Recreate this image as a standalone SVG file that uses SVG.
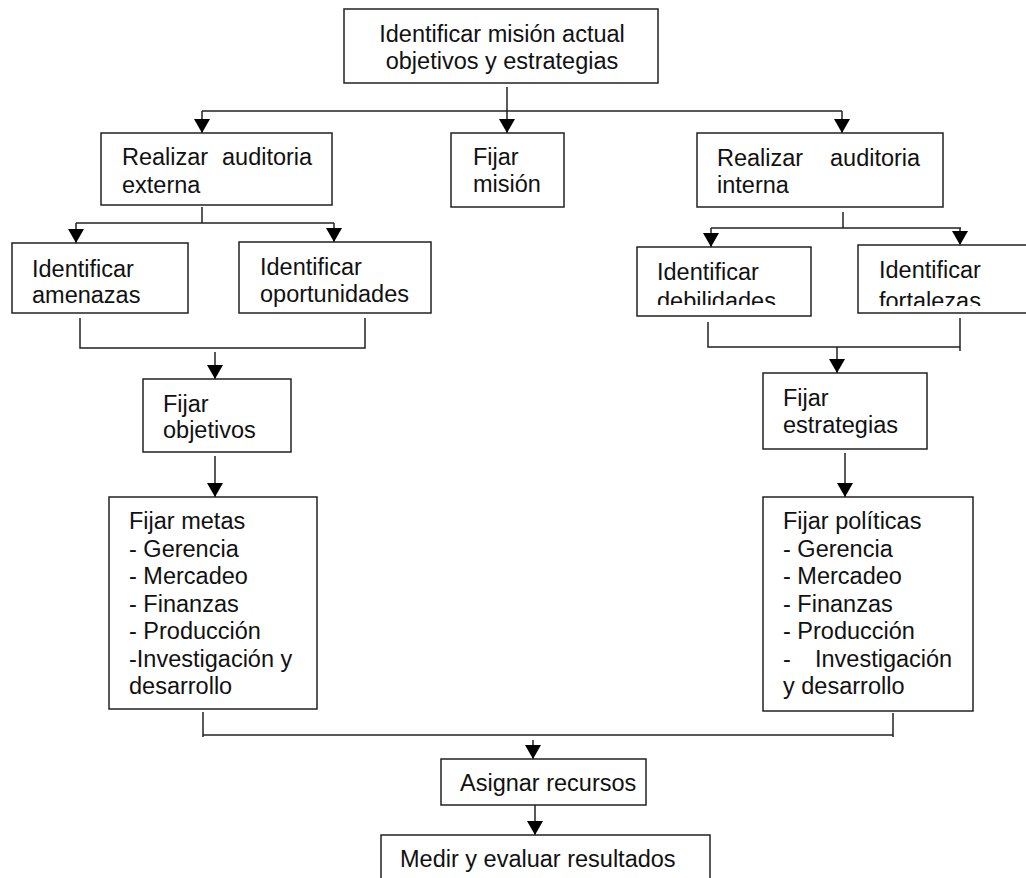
<svg xmlns="http://www.w3.org/2000/svg" width="1026" height="878" viewBox="0 0 1026 878">
<style>
.box{fill:#fff;stroke:#222;stroke-width:1.5}
.t{font-family:"Liberation Sans",Arial,sans-serif;font-size:23.5px;fill:#111}
.c{fill:none;stroke:#222;stroke-width:1.5}
</style>
<defs>
<marker id="ah" viewBox="0 0 14 16" refX="14" refY="8" markerWidth="14" markerHeight="16" markerUnits="userSpaceOnUse" orient="auto">
<path d="M0,0 L14,8 L0,16 z" fill="#000"/>
</marker>
<clipPath id="clipDeb"><rect x="637" y="247" width="174" height="58"/></clipPath>
<clipPath id="clipFor"><rect x="858" y="245" width="168" height="61"/></clipPath>
</defs>
<rect width="1026" height="878" fill="#fff"/>
<g id="connectors">
<path class="c" d="M507,87 V111"/>
<path class="c" d="M202,111 H842"/>
<path class="c" d="M202,111 V133" marker-end="url(#ah)"/>
<path class="c" d="M507,111 V133" marker-end="url(#ah)"/>
<path class="c" d="M842,111 V133" marker-end="url(#ah)"/>
<path class="c" d="M202,207 V223"/>
<path class="c" d="M76,223 H334"/>
<path class="c" d="M76,223 V243" marker-end="url(#ah)"/>
<path class="c" d="M334,223 V242" marker-end="url(#ah)"/>
<path class="c" d="M80,318 V348 H365 V318"/>
<path class="c" d="M215,352 V379" marker-end="url(#ah)"/>
<path class="c" d="M215,456 V497" marker-end="url(#ah)"/>
<path class="c" d="M843,212 V228"/>
<path class="c" d="M711,228 H961"/>
<path class="c" d="M711,228 V247" marker-end="url(#ah)"/>
<path class="c" d="M960,228 V245" marker-end="url(#ah)"/>
<path class="c" d="M708,322 V347 H960"/>
<path class="c" d="M960,318 V351"/>
<path class="c" d="M837,347 V373" marker-end="url(#ah)"/>
<path class="c" d="M845,453 V497" marker-end="url(#ah)"/>
<path class="c" d="M203,712 V737"/>
<path class="c" d="M893,713 V737"/>
<path class="c" d="M203,735 H893"/>
<path class="c" d="M533,740 V759" marker-end="url(#ah)"/>
<path class="c" d="M535,805 V835" marker-end="url(#ah)"/>
</g>
<g id="n-mision-actual">
<rect class="box" x="344" y="9" width="314" height="74"/>
<text class="t" x="502" y="42" text-anchor="middle">Identificar misión actual</text>
<text class="t" x="502" y="69" text-anchor="middle">objetivos y estrategias</text>
</g>
<g id="n-aud-externa">
<rect class="box" x="101" y="133" width="231" height="72"/>
<text class="t" x="122" y="165">Realizar</text>
<text class="t" x="222" y="165">auditoria</text>
<text class="t" x="122" y="193">externa</text>
</g>
<g id="n-fijar-mision">
<rect class="box" x="451" y="133" width="113" height="74"/>
<text class="t" x="473" y="165">Fijar</text>
<text class="t" x="473" y="192">misión</text>
</g>
<g id="n-aud-interna">
<rect class="box" x="697" y="133" width="246" height="74"/>
<text class="t" x="717" y="166">Realizar</text>
<text class="t" x="830" y="166">auditoria</text>
<text class="t" x="717" y="193">interna</text>
</g>
<g id="n-amenazas">
<rect class="box" x="12" y="243" width="176" height="70"/>
<text class="t" x="32" y="277">Identificar</text>
<text class="t" x="32" y="303">amenazas</text>
</g>
<g id="n-oportunidades">
<rect class="box" x="239" y="242" width="192" height="71"/>
<text class="t" x="260" y="275">Identificar</text>
<text class="t" x="260" y="302">oportunidades</text>
</g>
<g id="n-debilidades">
<rect class="box" x="637" y="247" width="174" height="69"/>
<g clip-path="url(#clipDeb)">
<text class="t" x="657" y="280">Identificar</text>
<text class="t" x="657" y="309">debilidades</text>
</g>
</g>
<g id="n-fortalezas">
<rect class="box" x="858" y="245" width="180" height="68"/>
<g clip-path="url(#clipFor)">
<text class="t" x="879" y="278">Identificar</text>
<text class="t" x="879" y="309">fortalezas</text>
</g>
</g>
<g id="n-objetivos">
<rect class="box" x="143" y="379" width="148" height="73"/>
<text class="t" x="163" y="412">Fijar</text>
<text class="t" x="163" y="438">objetivos</text>
</g>
<g id="n-estrategias">
<rect class="box" x="763" y="373" width="164" height="76"/>
<text class="t" x="783" y="406">Fijar</text>
<text class="t" x="783" y="433">estrategias</text>
</g>
<g id="n-metas">
<rect class="box" x="109" y="497" width="208" height="212"/>
<text class="t" x="129" y="529">Fijar metas</text>
<text class="t" x="129" y="557">- Gerencia</text>
<text class="t" x="129" y="584">- Mercadeo</text>
<text class="t" x="129" y="612">- Finanzas</text>
<text class="t" x="129" y="639">- Producción</text>
<text class="t" x="129" y="667">-Investigación y</text>
<text class="t" x="129" y="694">desarrollo</text>
</g>
<g id="n-politicas">
<rect class="box" x="763" y="497" width="210" height="214"/>
<text class="t" x="783" y="529">Fijar políticas</text>
<text class="t" x="783" y="557">- Gerencia</text>
<text class="t" x="783" y="584">- Mercadeo</text>
<text class="t" x="783" y="612">- Finanzas</text>
<text class="t" x="783" y="639">- Producción</text>
<text class="t" x="783" y="667">-</text>
<text class="t" x="815" y="667">Investigación</text>
<text class="t" x="783" y="694">y desarrollo</text>
</g>
<g id="n-asignar">
<rect class="box" x="441" y="759" width="205" height="46"/>
<text class="t" x="460" y="791">Asignar recursos</text>
</g>
<g id="n-medir">
<rect class="box" x="381" y="835" width="329" height="60"/>
<text class="t" x="400" y="867">Medir y evaluar resultados</text>
</g>
</svg>
